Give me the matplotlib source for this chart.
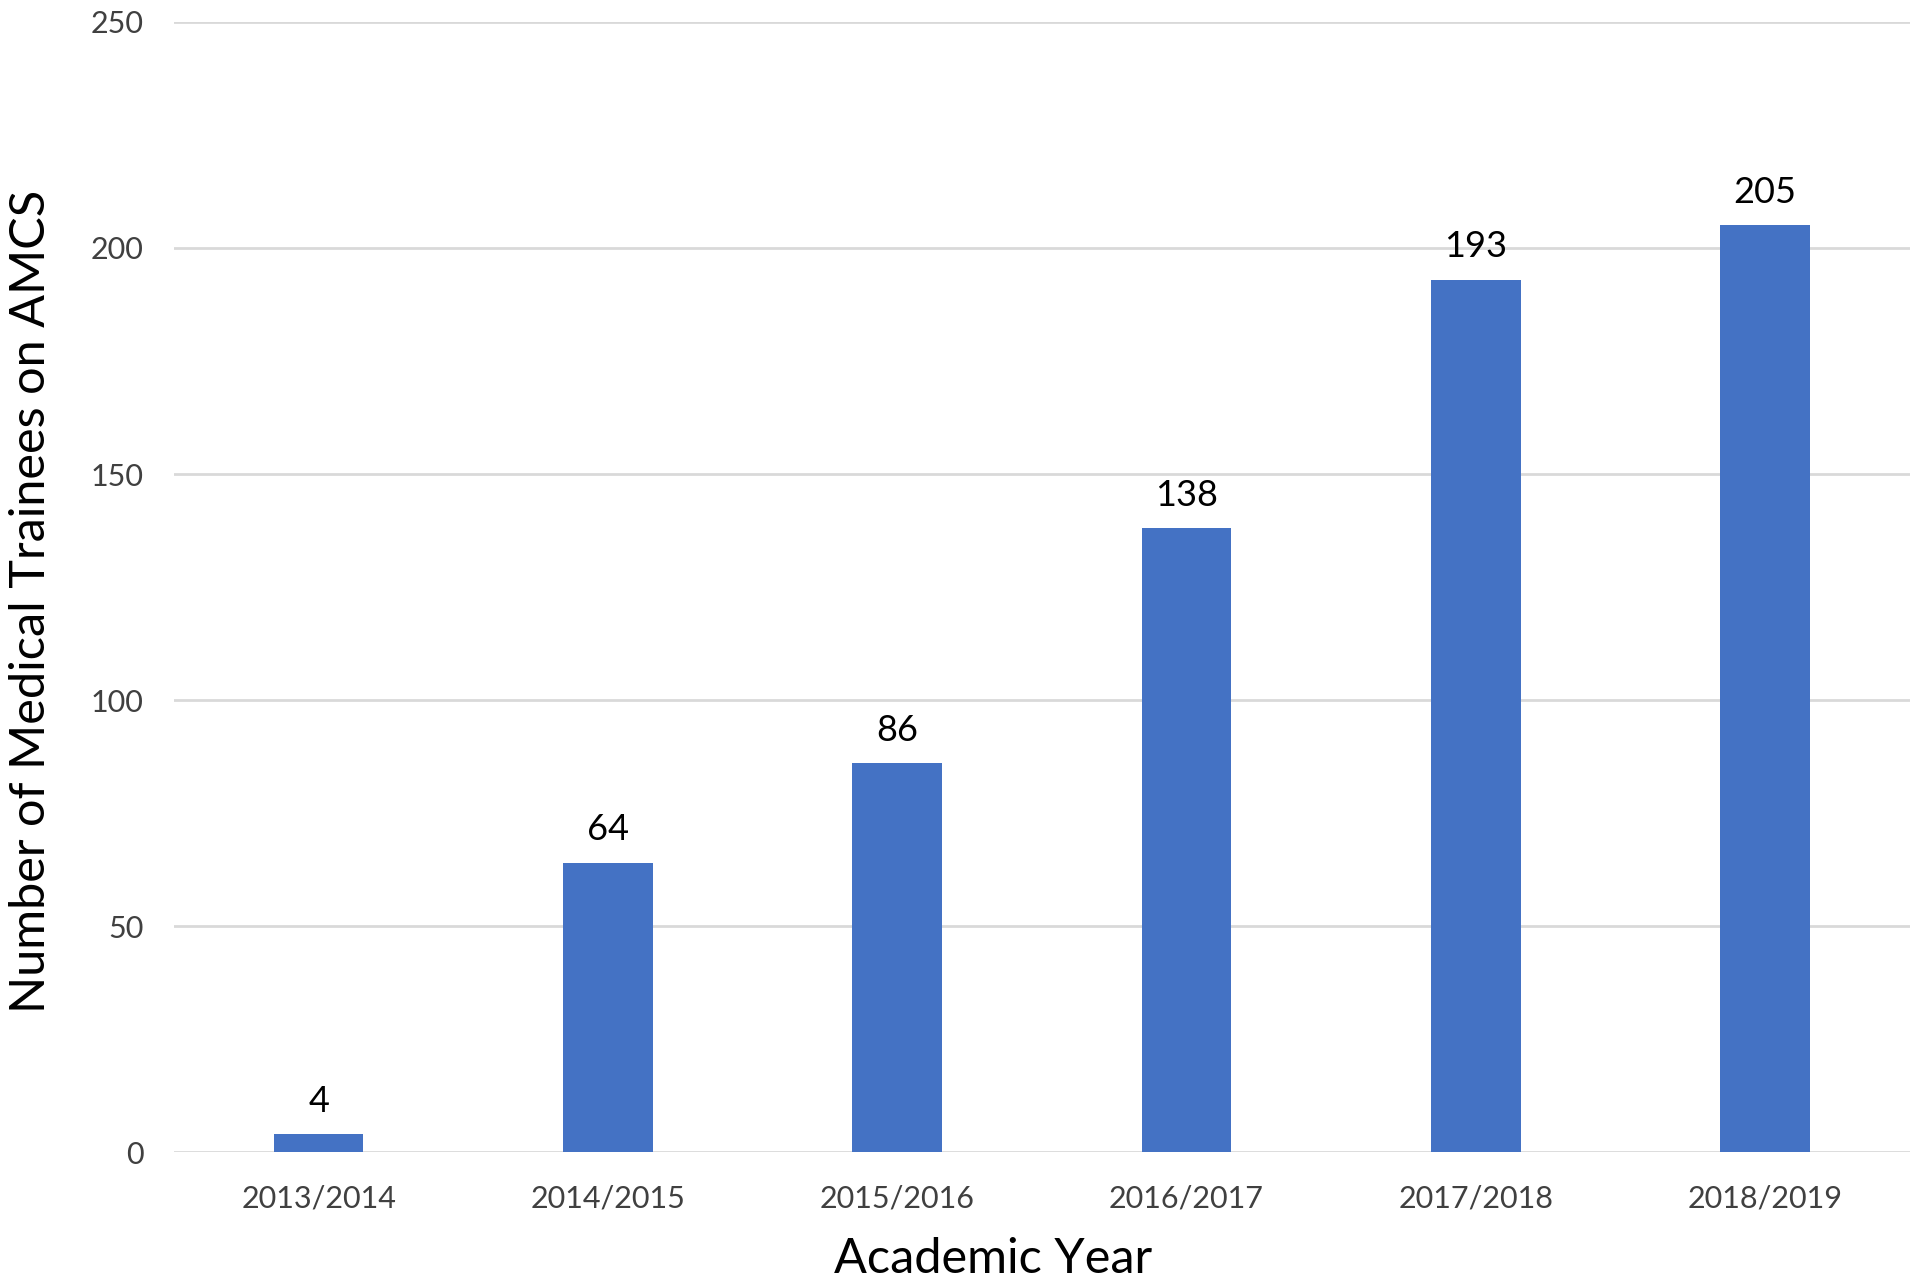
import matplotlib
matplotlib.use("Agg")
import matplotlib.pyplot as plt

years = ["2013/2014", "2014/2015", "2015/2016", "2016/2017", "2017/2018", "2018/2019"]
trainees = [4, 64, 86, 138, 193, 205]
yticks = [0, 50, 100, 150, 200, 250]

plt.rcParams['font.family'] = ['Lato', 'DejaVu Sans']

fig = plt.figure(figsize=(19.2, 12.86), dpi=100)
ax = fig.add_axes([0.0906, 0.104, 0.904, 0.879])

x = list(range(len(years)))
bars = ax.bar(x, trainees, width=0.31, color="#4472C4", zorder=3)

ax.set_xlim(-0.5, len(years) - 0.5)
ax.set_ylim(0, 250)
ax.set_yticks(yticks)
ax.set_yticklabels([str(t) for t in yticks], fontsize=22, color="#404040")
ax.set_xticks(x)
ax.set_xticklabels(years, fontsize=22, color="#404040")
ax.tick_params(axis='both', length=0)
ax.tick_params(axis='y', pad=22)
ax.tick_params(axis='x', pad=23)

ax.grid(axis='y', color="#d9d9d9", linewidth=2, zorder=0)
for s in ax.spines.values():
    s.set_visible(False)

for xi, v in zip(x, trainees):
    ax.annotate(str(v), (xi, v), xytext=(0, 12), textcoords='offset points',
                ha='center', va='bottom', fontsize=26, color='black')

ax.set_xlabel("Academic Year", fontsize=35, color='black', va='center')
ax.set_ylabel("Number of Medical Trainees on AMCS", fontsize=35, color='black', va='center')
ax.xaxis.set_label_coords(0.472, -0.094)
ax.yaxis.set_label_coords(-0.0825, 0.4875)

fig.savefig("out.png", dpi=100)
